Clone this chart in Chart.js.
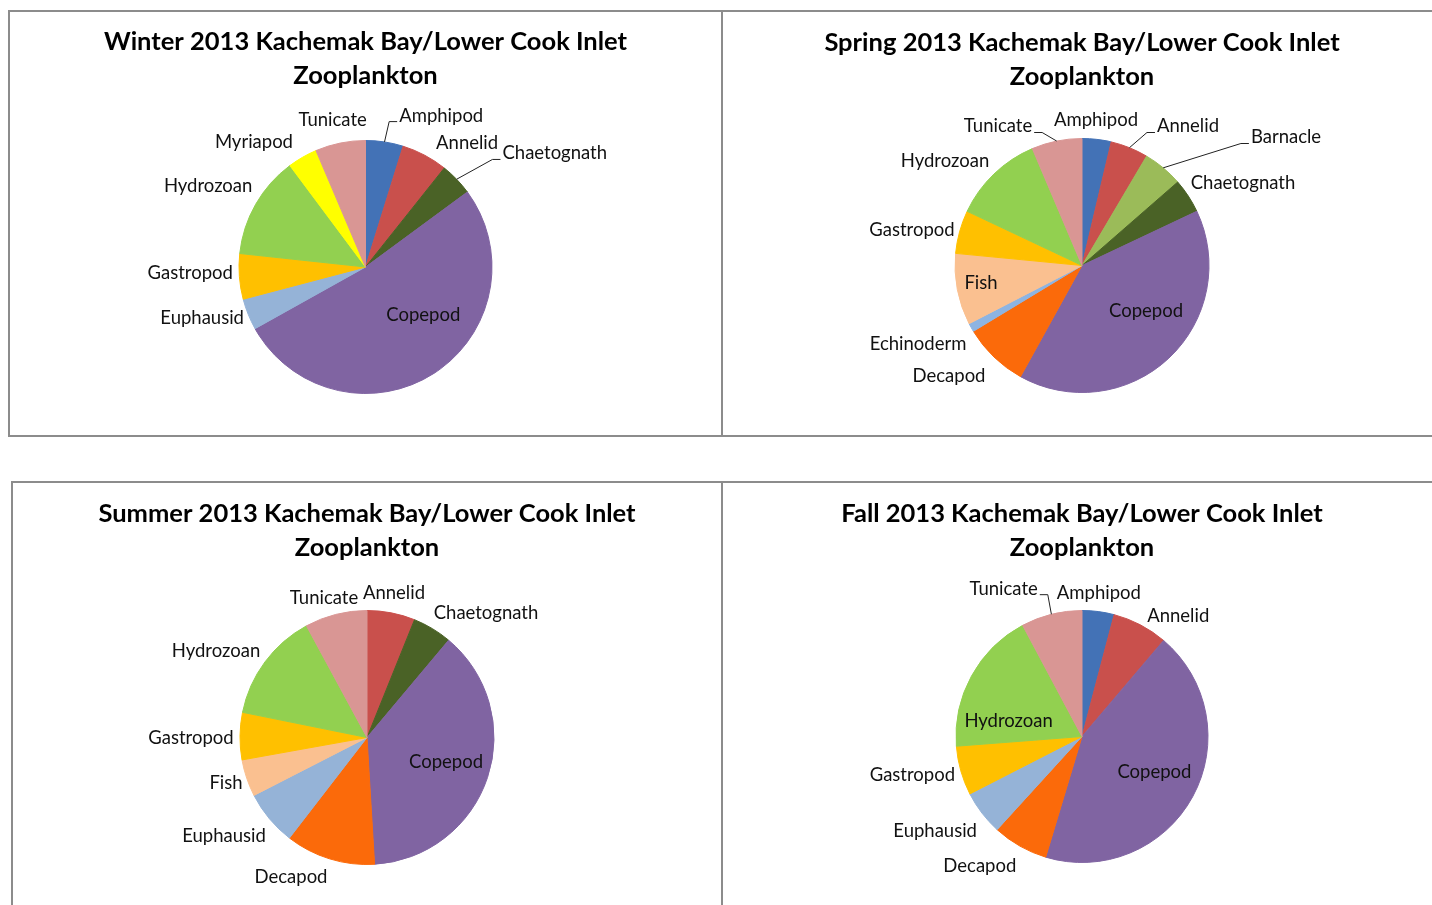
<!DOCTYPE html>
<html lang="en">
<head>
  <meta charset="UTF-8">
  <title>Kachemak Bay/Lower Cook Inlet Zooplankton 2013</title>
  <script src="https://cdn.jsdelivr.net/npm/chart.js"></script>
  <style>
    html, body { margin: 0; padding: 0; background: #fff; overflow: hidden; }
    body { width: 1432px; height: 905px; position: relative; }
    .panel { position: absolute; border: 2px solid #8c8c8c; box-sizing: border-box; background: #fff; }
    .panel canvas { display: block; }
  </style>
</head>
<body>

  <div class="panel" style="left:8px; top:10px; width:715px; height:427px;">
    <canvas id="winter" width="711" height="423"></canvas>
  </div>
  <div class="panel" style="left:723px; top:10px; width:720px; height:427px; border-left:0;">
    <canvas id="spring" width="718" height="423"></canvas>
  </div>
  <div class="panel" style="left:11px; top:481px; width:712px; height:427px;">
    <canvas id="summer" width="708" height="423"></canvas>
  </div>
  <div class="panel" style="left:723px; top:481px; width:720px; height:427px; border-left:0;">
    <canvas id="fall" width="718" height="423"></canvas>
  </div>

<script>
// share of the catch per taxon (percent)
const winterTaxa = ['Amphipod', 'Annelid', 'Chaetognath', 'Copepod', 'Euphausid', 'Gastropod', 'Hydrozoan', 'Myriapod', 'Tunicate'];
const winterPct  = [4.8, 5.9, 4.2, 52.0, 4.0, 5.8, 13.1, 3.8, 6.4];

const springTaxa = ['Amphipod', 'Annelid', 'Barnacle', 'Chaetognath', 'Copepod', 'Decapod', 'Echinoderm', 'Fish', 'Gastropod', 'Hydrozoan', 'Tunicate'];
const springPct  = [3.7, 4.8, 5.1, 4.4, 40.1, 8.3, 1.1, 9.1, 5.5, 11.6, 6.4];

const summerTaxa = ['Annelid', 'Chaetognath', 'Copepod', 'Decapod', 'Euphausid', 'Fish', 'Gastropod', 'Hydrozoan', 'Tunicate'];
const summerPct  = [6.1, 5.0, 37.9, 11.4, 7.0, 4.7, 6.0, 13.9, 7.9];

const fallTaxa = ['Amphipod', 'Annelid', 'Copepod', 'Decapod', 'Euphausid', 'Gastropod', 'Hydrozoan', 'Tunicate'];
const fallPct  = [4.1, 7.1, 43.4, 7.1, 5.7, 6.3, 18.4, 7.8];

const titleTail = 'Kachemak Bay/Lower Cook Inlet';

// one colour per taxon, same in every season
const taxonColor = {
  Amphipod: '#4372b6',
  Annelid: '#c9504c',
  Barnacle: '#9bbb59',
  Chaetognath: '#4a6226',
  Copepod: '#8064a2',
  Decapod: '#fb6a0a',
  Echinoderm: '#8db4e2',
  Euphausid: '#95b3d7',
  Fish: '#fac090',
  Gastropod: '#ffc000',
  Hydrozoan: '#92d050',
  Myriapod: '#ffff00',
  Tunicate: '#d99694'
};

// label placement, px from pie centre for a radius of 127
const winterLabelPos = [[76,-152],[102,-124],[190,-114],[58,48],[-164,51],[-176,6],[-158,-81],[-112,-125],[-33,-148]];
const springLabelPos = [[14,-145],[106,-139],[204,-128],[161,-82],[64,46],[-133,111],[-164,79],[-101,18],[-170,-35],[-137,-104],[-84,-139]];
const summerLabelPos = [[27,-144],[119,-124],[79,25],[-76,140],[-143,99],[-141,46],[-176,1],[-151,-86],[-43,-139]];
const fallLabelPos   = [[17,-145],[97,-121],[73,36],[-103,131],[-148,95],[-171,39],[-74,-16],[-79,-149]];

Chart.defaults.color = '#000';
Chart.defaults.font.family = 'Lato, "Open Sans", sans-serif';

const sliceLabels = {
  id: 'sliceLabels',
  afterDatasetsDraw(chart, args, opts) {
    const ctx = chart.ctx;
    const arcs = chart.getDatasetMeta(0).data;
    const names = chart.data.labels;
    ctx.save();
    ctx.font = '18.5px Lato, "Open Sans", sans-serif';
    ctx.textAlign = 'center';
    ctx.textBaseline = 'middle';
    ctx.fillStyle = '#111';
    ctx.strokeStyle = '#222';
    ctx.lineWidth = 1;
    arcs.forEach((arc, i) => {
      const k = arc.outerRadius / 127;
      const tx = arc.x + opts.pos[i][0] * k;
      const ty = arc.y + opts.pos[i][1] * k;
      ctx.fillText(names[i], tx, ty);

      if (opts.leaders.includes(names[i])) {
        const mid = (arc.startAngle + arc.endAngle) / 2;
        const px = arc.x + arc.outerRadius * Math.cos(mid);
        const py = arc.y + arc.outerRadius * Math.sin(mid);
        const half = ctx.measureText(names[i]).width / 2;
        const toRight = tx > px;
        const ex = toRight ? tx - half - 2 : tx + half + 2;
        const elbow = toRight ? ex - 8 : ex + 8;
        const ly = ty + 6;
        ctx.beginPath();
        ctx.moveTo(px, py);
        ctx.lineTo(elbow, ly);
        ctx.lineTo(ex, ly);
        ctx.stroke();
      }
    });
    ctx.restore();
  }
};

function buildPie(id, season, taxa, pct, labelPos, leaders, pad) {
  const colors = taxa.map(t => taxonColor[t]);
  return new Chart(document.getElementById(id), {
    type: 'pie',
    data: {
      labels: taxa,
      datasets: [{
        data: pct,
        backgroundColor: colors,
        borderColor: colors,
        borderWidth: 1,
        hoverOffset: 0
      }]
    },
    options: {
      responsive: false,
      animation: false,
      layout: { padding: { top: 0, bottom: pad.bottom, left: 0, right: 0 } },
      plugins: {
        legend: { display: false },
        tooltip: { enabled: false },
        title: {
          display: true,
          text: [season + ' 2013 ' + titleTail, 'Zooplankton'],
          color: '#000',
          font: { family: 'Lato, "Open Sans", sans-serif', weight: 'bold', size: 25.5, lineHeight: 34 / 25.5 },
          padding: { top: pad.titleTop, bottom: pad.titleBottom }
        },
        sliceLabels: { pos: labelPos, leaders: leaders }
      }
    },
    plugins: [sliceLabels]
  });
}

buildPie('winter', 'Winter', winterTaxa, winterPct, winterLabelPos, ['Amphipod', 'Chaetognath'],
  { titleTop: 13, titleBottom: 47, bottom: 41 });
buildPie('spring', 'Spring', springTaxa, springPct, springLabelPos, ['Annelid', 'Barnacle', 'Tunicate'],
  { titleTop: 14, titleBottom: 44, bottom: 42 });
buildPie('summer', 'Summer', summerTaxa, summerPct, summerLabelPos, [],
  { titleTop: 14, titleBottom: 45, bottom: 41 });
buildPie('fall', 'Fall', fallTaxa, fallPct, fallLabelPos, ['Tunicate'],
  { titleTop: 14, titleBottom: 45, bottom: 43 });
</script>
</body>
</html>
